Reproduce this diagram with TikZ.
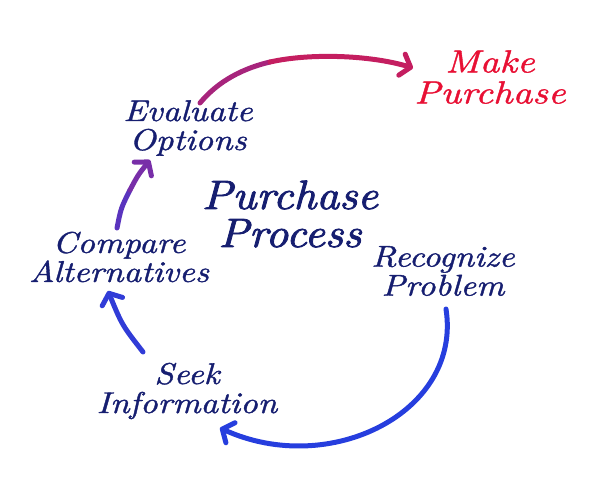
\documentclass[tikz,border=0pt]{standalone}
\usepackage{fontspec}
\usetikzlibrary{arrows.meta}
\newfontfamily\hand{lmroman10-italic}[Extension=.otf, FakeBold=1.2, FakeStretch=1.15]
\newfontfamily\handr{lmroman10-italic}[Extension=.otf, FakeBold=1.2, FakeStretch=1.2]
\newfontfamily\handb{lmroman10-italic}[Extension=.otf, FakeBold=2, FakeStretch=1.09]
\definecolor{navy}{RGB}{22,30,112}
\definecolor{mkred}{RGB}{232,16,52}
\definecolor{arrblue}{RGB}{38,62,222}
\definecolor{arrpurp}{RGB}{112,48,176}
\definecolor{arrmag}{RGB}{196,30,96}
\tikzset{
  lbl/.style={text=navy, align=center, inner sep=0pt, font=\hand\fontsize{30}{29}\selectfont},
  title/.style={text=navy, align=center, inner sep=0pt, font=\handb\fontsize{41}{38}\selectfont},
  red/.style={text=mkred, align=center, inner sep=0pt, font=\handr\fontsize{32}{31}\selectfont},
  conn/.style={line width=5pt, line cap=round, -{Straight Barb[length=9pt,width=22pt,line width=5pt,round]}}
}
\begin{document}
\begin{tikzpicture}[x=1pt,y=-1pt]
\useasboundingbox (0,0) rectangle (600,500);
\node[red] (make) at (490,77) {Make\\Purchase};
\node[lbl] (eval) at (188,128) {Evaluate\\Options};
\node[title] (proc) at (290,214) {Purchase\\Process};
\node[lbl] (comp) at (119,257) {Compare\\Alternatives};
\node[lbl] (seek) at (187,391) {Seek\\Information};
\node[lbl] (reco) at (443,271) {Recognize\\Problem};
% connector end points
\coordinate (r0) at (446,309);
\coordinate (s1) at (220,428);
\coordinate (s0) at (143,352);
\coordinate (c1) at (108,291);
\coordinate (c0) at (117,228);
\coordinate (cm) at (130,190);
\coordinate (e1) at (150,160);
\coordinate (e0) at (200,103);
\coordinate (em) at (270,62);
\coordinate (m1) at (413,68);
\draw[conn, arrblue] (r0) .. controls (462,412) and (330,478) .. (s1);
\draw[conn, arrblue!85!arrpurp] (s0) .. controls (122,325) .. (c1);
\draw[line width=5pt, line cap=round, arrpurp!70!arrblue] (c0) .. controls (121,208) .. (cm);
\draw[conn, arrpurp!90!arrmag] (cm) .. controls (138,175) .. (e1);
\draw[line width=5pt, line cap=round, arrpurp!35!arrmag] (e0) .. controls (214,86) and (236,70) .. (em);
\draw[conn, arrmag] (em) .. controls (310,53) and (370,55) .. (m1);
\end{tikzpicture}
\end{document}
